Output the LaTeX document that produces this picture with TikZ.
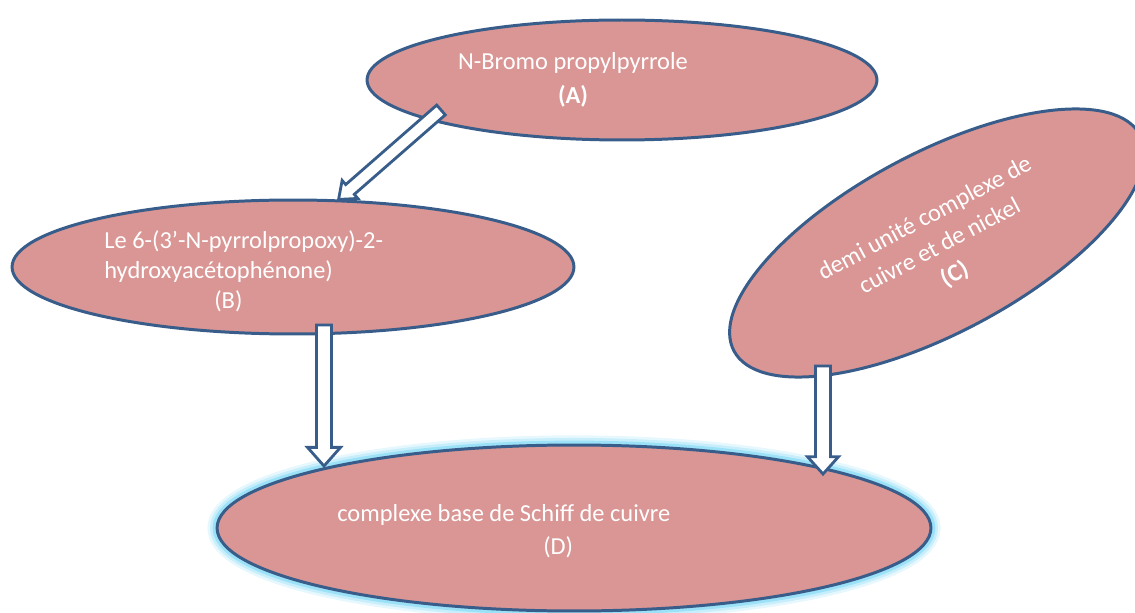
\documentclass[tikz,border=0pt]{standalone}
\usepackage{fontspec}
\setmainfont{Carlito}
\usetikzlibrary{shapes.geometric,calc}
\definecolor{blobpink}{RGB}{217,150,148}
\definecolor{edgeblue}{RGB}{56,93,138}
\definecolor{glowblue}{RGB}{130,218,245}

\tikzset{
  blob/.style={ellipse, draw=edgeblue, fill=blobpink, line width=1.7pt, inner sep=0pt},
  tag/.style={text=white, font=\fontsize{13.9}{17}\selectfont, inner sep=0pt},
  glow/.style={preaction={draw=glowblue!20, line width=11pt},
               preaction={draw=glowblue!45, line width=8pt},
               preaction={draw=glowblue!80, line width=5pt}},
  % hollow block arrow: half shaft, half head, head length
  blockarrow/.style n args={3}{draw=edgeblue, fill=white, line width=1.6pt, line join=miter,
    to path={let \p1=(\tikztostart), \p2=(\tikztotarget),
      \n1={atan2(\y2-\y1,\x2-\x1)}, \n2={veclen(\x2-\x1,\y2-\y1)-#3} in
      -- ($(\p1)+(\n1+90:#1)$)
      -- ($(\p1)+(\n1:\n2)+(\n1+90:#1)$)
      -- ($(\p1)+(\n1:\n2)+(\n1+90:#2)$)
      -- (\p2)
      -- ($(\p1)+(\n1:\n2)+(\n1-90:#2)$)
      -- ($(\p1)+(\n1:\n2)+(\n1-90:#1)$)
      -- ($(\p1)+(\n1-90:#1)$)
      -- cycle}}
}

\begin{document}
\begin{tikzpicture}[x=0.02cm, y=0.02cm]

\useasboundingbox (0,0) rectangle (1135,612);

% Ellipses
\node[blob, minimum width=10.2cm, minimum height=2.4cm] (A) at (622,532) {};
\node[blob, minimum width=11.24cm, minimum height=2.68cm] (B) at (293,345) {};
\node[blob, minimum width=9.2cm, minimum height=3.6cm, rotate=28] (C) at (937,369) {};
\node[blob, glow, minimum width=14.28cm, minimum height=3.32cm] (D) at (574,84) {};

% Texts
\node[tag, align=center, font=\fontsize{13.9}{19}\selectfont] (Atext) at (573,532)
  {N-Bromo propylpyrrole\\\textbf{(A)}};
\node[tag, align=left, anchor=west] (Btext) at (104,341)
  {Le 6-(3’-N-pyrrolpropoxy)-2-\\hydroxyacétophénone)\\\hspace*{2.2cm}(B)};
\node[tag, align=center, rotate=28, font=\fontsize{13.9}{18}\selectfont] (Ctext) at (940,365)
  {demi unité complexe de\\cuivre et de nickel\\\textbf{(C)}};
\node[tag, align=left, anchor=west, font=\fontsize{13.9}{18.7}\selectfont] (Dtext) at (337,80.5)
  {complexe base de Schiff de cuivre\\\hspace*{4.12cm}(D)};

% Arrow ends
\coordinate (abFrom) at (441,502);
\coordinate (bdFrom) at (324,287);
\coordinate (bdTo) at (324,146);
\coordinate (cdFrom) at (823,246);
\coordinate (cdTo) at (823,138);

% Arrows
\draw[blockarrow={3.7pt}{6.8pt}{8.5pt}] (abFrom) to (B.56);
\draw[blockarrow={4.3pt}{9.4pt}{10.6pt}] (bdFrom) to (bdTo);
\draw[blockarrow={4.3pt}{8.8pt}{9.8pt}] (cdFrom) to (cdTo);

\end{tikzpicture}
\end{document}
